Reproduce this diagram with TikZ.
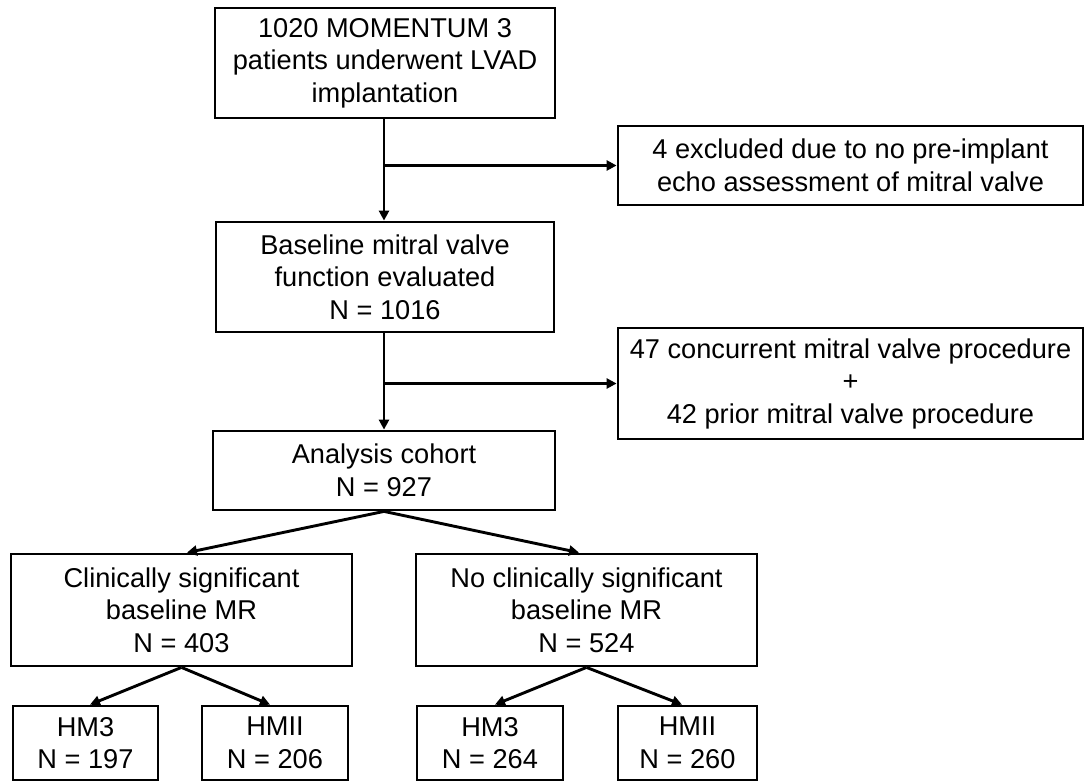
\documentclass[tikz,border=0pt]{standalone}
\usepackage{fontspec}
\setmainfont{Liberation Sans}
\usetikzlibrary{arrows.meta,calc}
\begin{document}
\begin{tikzpicture}[x=1pt,y=-1pt,
  box/.style={draw=black,line width=2.8pt,align=center,inner sep=0pt,
    font=\fontsize{27.2}{32.5}\selectfont},
  conn/.style={line width=2.9pt,-{Triangle[length=10pt,width=10pt]}}]
\useasboundingbox (0,0) rectangle (1084,781);
% main column
\node[box,minimum width=340pt,minimum height=110pt] (b1) at (385,63) {1020 MOMENTUM 3\\patients underwent LVAD\\implantation};
\node[box,minimum width=465pt,minimum height=79pt] (ex1) at (850.5,165.5) {4 excluded due to no pre-implant\\echo assessment of mitral valve};
\node[box,minimum width=338pt,minimum height=110pt] (b2) at (385,277) {Baseline mitral valve\\function evaluated\\N = 1016};
\node[box,minimum width=465pt,minimum height=111pt] (ex2) at (850.5,383.5) {47 concurrent mitral valve procedure\\+\\42 prior mitral valve procedure};
\node[box,minimum width=342pt,minimum height=79pt] (an) at (384,470.5) {Analysis cohort\\N = 927};
\node[box,minimum width=341pt,minimum height=112pt] (cl) at (181.5,610) {Clinically significant\\baseline MR\\N = 403};
\node[box,minimum width=341pt,minimum height=112pt] (nc) at (586.5,610) {No clinically significant\\baseline MR\\N = 524};
\node[box,minimum width=145pt,minimum height=74pt] (h3a) at (85.5,743) {HM3\\N = 197};
\node[box,minimum width=146pt,minimum height=74pt] (h2a) at (275,743) {HMII\\N = 206};
\node[box,minimum width=146pt,minimum height=74pt] (h3b) at (490,743) {HM3\\N = 264};
\node[box,minimum width=139pt,minimum height=74pt] (h2b) at (687.5,743) {HMII\\N = 260};
% connectors
\draw[conn] ([xshift=-1pt]b1.south) -- ([xshift=-1pt]b2.north);
\draw[conn] ([xshift=-1pt]b1.south |- ex1.west) -- (ex1.west);
\draw[conn] ([xshift=-1pt]b2.south) -- (an.north);
\draw[conn] ([xshift=-1pt]b2.south |- ex2.west) -- (ex2.west);
\draw[conn] (an.south) -- ($(cl.north)+(5.5,0)$);
\draw[conn] (an.south) -- ($(nc.north)+(-7.5,0)$);
\draw[conn] (cl.south) -- ($(h3a.north)+(4.5,0)$);
\draw[conn] (cl.south) -- ($(h2a.north)+(-5,0)$);
\draw[conn] (nc.south) -- ($(h3b.north)+(5,0)$);
\draw[conn] (nc.south) -- ($(h2b.north)+(-5.5,0)$);
\end{tikzpicture}
\end{document}
